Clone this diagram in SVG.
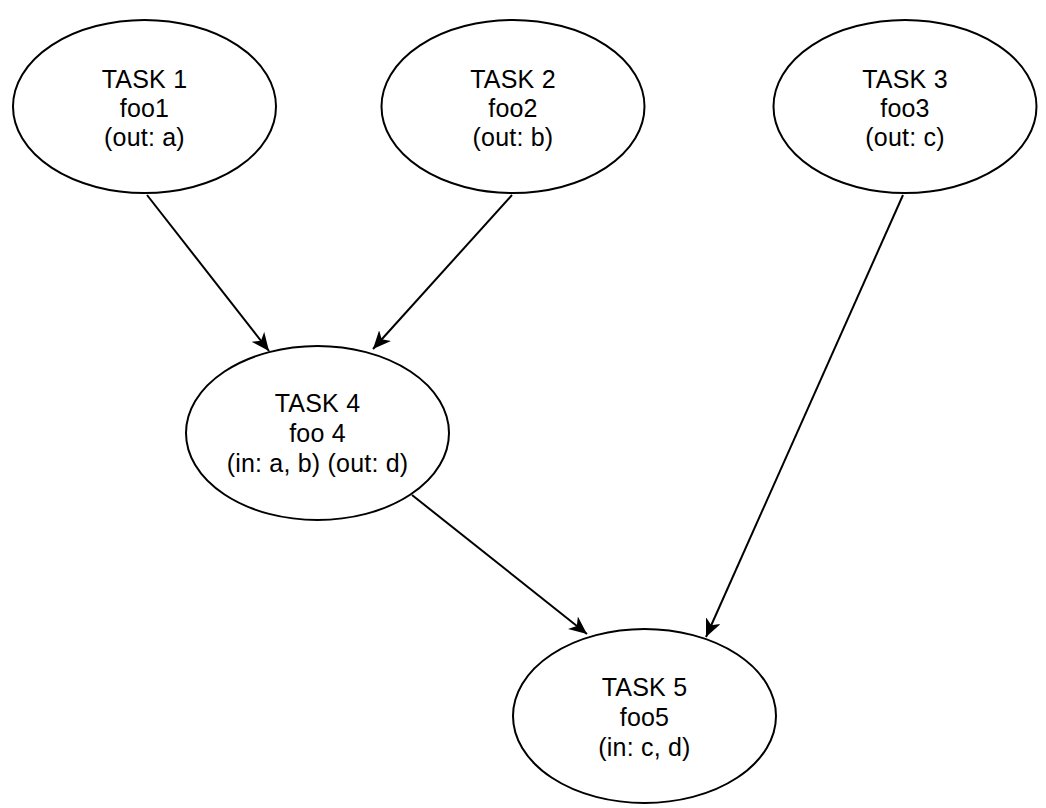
<svg xmlns="http://www.w3.org/2000/svg" width="1046" height="808" viewBox="0 0 1046 808">
<style>
.node ellipse{fill:#fff;stroke:#000;stroke-width:2}
.node text{font-family:"Liberation Sans",Arial,sans-serif;font-size:25px;letter-spacing:0.2px;fill:#000;text-anchor:middle}
.edge{stroke:#000;stroke-width:2;fill:none;marker-end:url(#arr)}
</style>
<defs>
<marker id="arr" markerUnits="userSpaceOnUse" markerWidth="19" markerHeight="16" refX="18" refY="8" orient="auto" viewBox="0 0 19 16">
<path d="M0,0 L18,8 L0,16 L5,8 Z" fill="#000"/>
</marker>
</defs>
<rect width="1046" height="808" fill="#fff"/>
<g id="connectors">
<line class="edge" x1="147" y1="195" x2="269" y2="351"/>
<line class="edge" x1="512" y1="195" x2="373" y2="349"/>
<line class="edge" x1="903" y1="195" x2="706" y2="637"/>
<line class="edge" x1="412" y1="495" x2="587" y2="634"/>
</g>
<g id="task1" class="node">
<ellipse cx="144.5" cy="106.5" rx="131.5" ry="86.5"/>
<text x="144.5" y="87.5">TASK 1</text>
<text x="144.5" y="116.5">foo1</text>
<text x="144.5" y="145.5">(out: a)</text>
</g>
<g id="task2" class="node">
<ellipse cx="513" cy="106.5" rx="131.5" ry="86.5"/>
<text x="513" y="87.5">TASK 2</text>
<text x="513" y="116.5">foo2</text>
<text x="513" y="145.5">(out: b)</text>
</g>
<g id="task3" class="node">
<ellipse cx="905" cy="106.5" rx="131.5" ry="86.5"/>
<text x="905" y="87.5">TASK 3</text>
<text x="905" y="116.5">foo3</text>
<text x="905" y="145.5">(out: c)</text>
</g>
<g id="task4" class="node">
<ellipse cx="317.5" cy="433" rx="131.5" ry="87"/>
<text x="317.5" y="412">TASK 4</text>
<text x="317.5" y="442">foo 4</text>
<text x="317.5" y="471.5">(in: a, b) (out: d)</text>
</g>
<g id="task5" class="node">
<ellipse cx="644.5" cy="716" rx="131.5" ry="87"/>
<text x="644.5" y="696">TASK 5</text>
<text x="644.5" y="726">foo5</text>
<text x="644.5" y="755.5">(in: c, d)</text>
</g>
</svg>
